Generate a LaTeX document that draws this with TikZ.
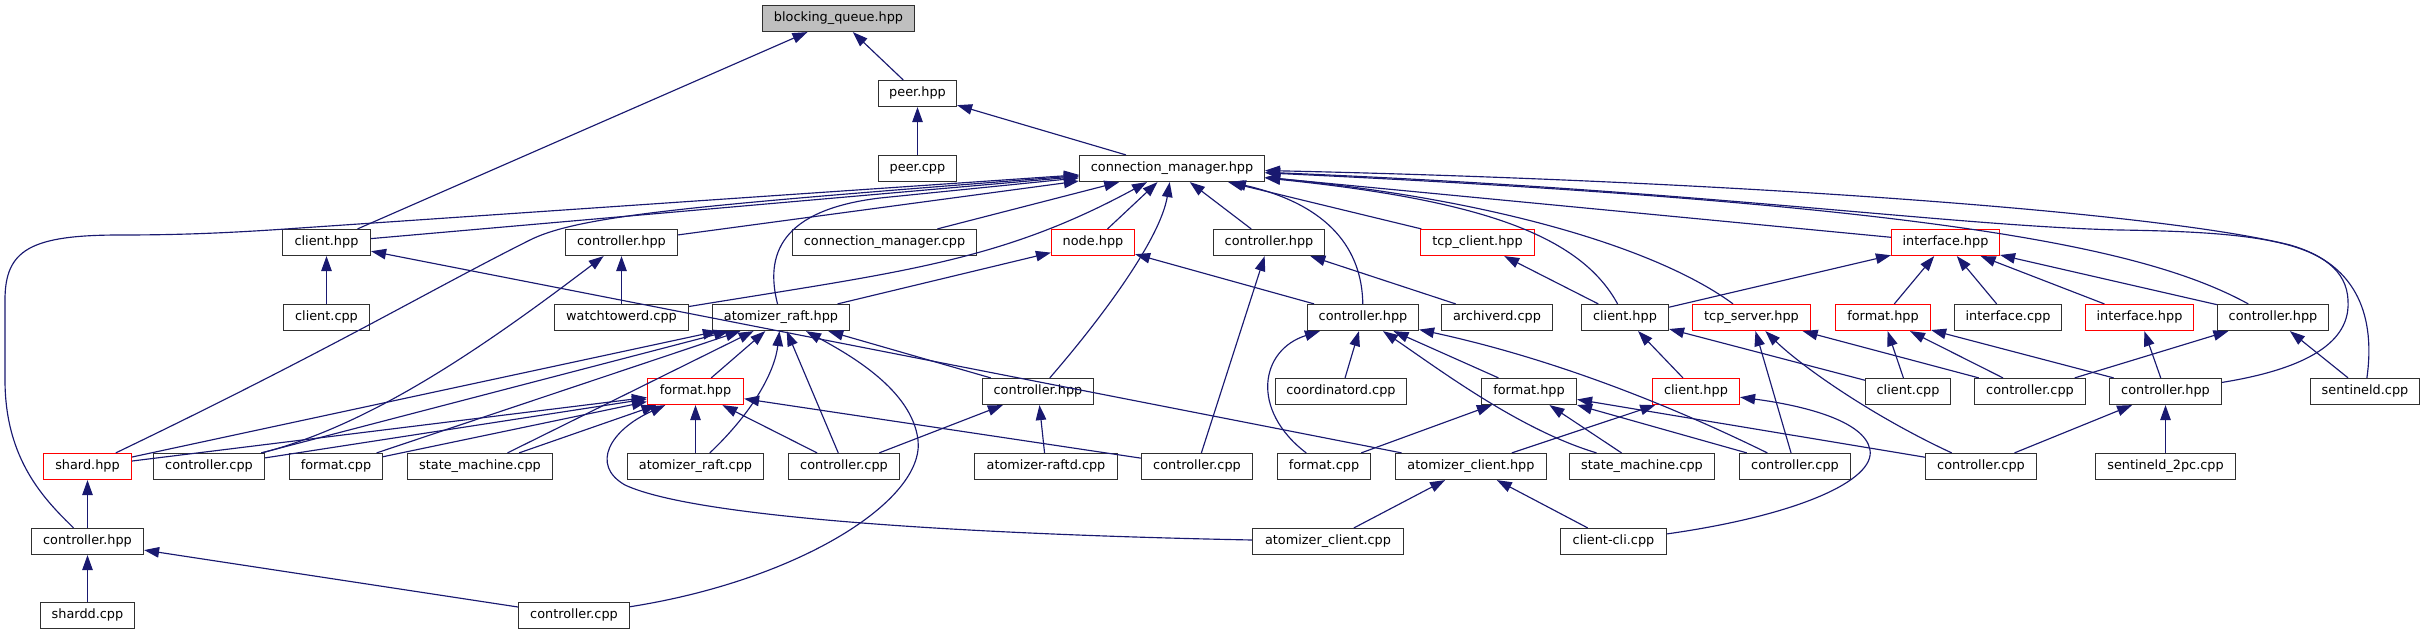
\documentclass[tikz,border=0pt]{standalone}
\usepackage{fontspec}
\setmainfont{DejaVu Sans}
\usetikzlibrary{arrows.meta}
\definecolor{edgeblue}{HTML}{191970}
\definecolor{boxgray}{HTML}{303030}
\definecolor{rootfill}{HTML}{BFBFBF}
\tikzset{box/.style={draw=boxgray,fill=white,line width=1.2pt,inner xsep=5pt,inner ysep=0pt,minimum height=26pt,text height=9.6pt,text depth=3pt,font=\fontsize{12.85pt}{15pt}\selectfont},
redbox/.style={box,draw=red},
rootbox/.style={box,fill=rootfill},
inc/.style={draw=edgeblue,line width=1.15pt,-{Triangle[length=15pt,width=10.5pt]}}}

\begin{document}
\begin{tikzpicture}[x=1pt,y=-1pt]
\useasboundingbox (0,0) rectangle (2425,635);
% nodes, row by row
\node[rootbox,minimum width=152pt] (bq) at (838.5,18.5) {blocking\_queue.hpp};
\node[box,minimum width=78pt] (peerh) at (917.5,93.5) {peer.hpp};
\node[box,minimum width=78pt] (peerc) at (917.5,168.5) {peer.cpp};
\node[box,minimum width=185pt] (cmh) at (1172,168.5) {connection\_manager.hpp};

\node[box,minimum width=88pt] (clienth) at (326.5,242.5) {client.hpp};
\node[box,minimum width=112pt] (ctrlha) at (621.5,242.5) {controller.hpp};
\node[box,minimum width=184pt] (cmc) at (884.5,242.5) {connection\_manager.cpp};
\node[redbox,minimum width=83pt] (nodeh) at (1093,242.5) {node.hpp};
\node[box,minimum width=111pt] (ctrlhb) at (1269,242.5) {controller.hpp};
\node[redbox,minimum width=114pt] (tcpch) at (1477.5,242.5) {tcp\_client.hpp};
\node[redbox,minimum width=108pt] (ifaceh) at (1945.5,242.5) {interface.hpp};

\node[box,minimum width=86pt] (clientc) at (326.5,317.5) {client.cpp};
\node[box,minimum width=134pt] (wtd) at (621.5,317.5) {watchtowerd.cpp};
\node[box,minimum width=137pt] (arh) at (781,317.5) {atomizer\_raft.hpp};
\node[box,minimum width=111pt] (ctrlhc) at (1363,317.5) {controller.hpp};
\node[box,minimum width=111pt] (archd) at (1497,317.5) {archiverd.cpp};
\node[box,minimum width=87pt] (clienthd) at (1625,317.5) {client.hpp};
\node[redbox,minimum width=118pt] (tcpsh) at (1751.5,317.5) {tcp\_server.hpp};
\node[redbox,minimum width=95pt] (fmthr) at (1883,317.5) {format.hpp};
\node[box,minimum width=107pt] (ifacec) at (2008,317.5) {interface.cpp};
\node[redbox,minimum width=108pt] (ifacehb) at (2139.5,317.5) {interface.hpp};
\node[box,minimum width=111pt] (ctrlhe) at (2273,317.5) {controller.hpp};

\node[redbox,minimum width=96pt] (fmtha) at (695.5,391.5) {format.hpp};
\node[box,minimum width=111pt] (ctrlhf) at (1038,391.5) {controller.hpp};
\node[box,minimum width=131pt] (coordc) at (1341,391.5) {coordinatord.cpp};
\node[box,minimum width=95pt] (fmthg) at (1529,391.5) {format.hpp};
\node[redbox,minimum width=87pt] (clienthh) at (1696,391.5) {client.hpp};
\node[box,minimum width=85pt] (clientcb) at (1908,391.5) {client.cpp};
\node[box,minimum width=111pt] (ctrlcb) at (2030,391.5) {controller.cpp};
\node[box,minimum width=112pt] (ctrlhi) at (2165.5,391.5) {controller.hpp};
\node[box,minimum width=109pt] (sentc) at (2365,391.5) {sentineld.cpp};

\node[redbox,minimum width=88pt] (shardh) at (87.5,466.5) {shard.hpp};
\node[box,minimum width=111pt] (ctrlc1) at (209,466.5) {controller.cpp};
\node[box,minimum width=93pt] (fmtc1) at (336,466.5) {format.cpp};
\node[box,minimum width=145pt] (smc1) at (480,466.5) {state\_machine.cpp};
\node[box,minimum width=136pt] (arc) at (695.5,466.5) {atomizer\_raft.cpp};
\node[box,minimum width=111pt] (ctrlc2) at (844,466.5) {controller.cpp};
\node[box,minimum width=143pt] (ardc) at (1046,466.5) {atomizer-raftd.cpp};
\node[box,minimum width=111pt] (ctrlc3) at (1197,466.5) {controller.cpp};
\node[box,minimum width=93pt] (fmtc2) at (1324,466.5) {format.cpp};
\node[box,minimum width=151pt] (ach) at (1471,466.5) {atomizer\_client.hpp};
\node[box,minimum width=145pt] (smc2) at (1642,466.5) {state\_machine.cpp};
\node[box,minimum width=111pt] (ctrlc4) at (1795,466.5) {controller.cpp};
\node[box,minimum width=111pt] (ctrlc5) at (1981,466.5) {controller.cpp};
\node[box,minimum width=140pt] (s2pc) at (2165.5,466.5) {sentineld\_2pc.cpp};

\node[box,minimum width=112pt] (ctrlh7) at (87.5,541.5) {controller.hpp};
\node[box,minimum width=151pt] (acc) at (1328,541.5) {atomizer\_client.cpp};
\node[box,minimum width=106pt] (clic) at (1613.5,541.5) {client-cli.cpp};

\node[box,minimum width=94pt] (shardd) at (87.5,615.5) {shardd.cpp};
\node[box,minimum width=111pt] (ctrlc8) at (574,615.5) {controller.cpp};

% top of the graph
\draw[inc] (peerh) -- (bq);
\draw[inc] (clienth) -- (bq);
\draw[inc] (peerc) -- (peerh);
\draw[inc] (cmh) -- (peerh);

% into connection_manager.hpp
\draw[inc] (clienth) -- (cmh);
\draw[inc] (ctrlh7) .. controls (45,500) and (5,460) .. (5,380) -- (5,300) .. controls (5,250) and (30,235) .. (120,235) .. controls (180,235) and (230,233) .. (300,228) -- (cmh);
\draw[inc] (shardh) .. controls (330,350) and (430,290) .. (530,240) .. controls (580,215) and (700,205) .. (cmh);
\draw[inc] (ctrlha) -- (cmh);
\draw[inc] (cmc) -- (cmh);
\draw[inc] (wtd) .. controls (900,272) and (1000,262) .. (cmh);
\draw[inc] (arh) .. controls (765,255) and (780,210) .. (880,198) -- (cmh);
\draw[inc] (nodeh) -- (cmh);
\draw[inc] (ctrlhb) -- (cmh);
\draw[inc] (ctrlhc) .. controls (1362,250) and (1330,205) .. (cmh);
\draw[inc] (ctrlhf) .. controls (1100,320) and (1160,240) .. (cmh);
\draw[inc] (tcpch) -- (cmh);
\draw[inc] (clienthd) .. controls (1580,235) and (1480,200) .. (cmh);
\draw[inc] (tcpsh) .. controls (1660,250) and (1500,200) .. (cmh);
\draw[inc] (ifaceh) -- (cmh);
\draw[inc] (ctrlhe) .. controls (2150,250) and (1950,205) .. (cmh);
\draw[inc] (ctrlhi) .. controls (2330,365) and (2350,330) .. (2348,300) .. controls (2345,240) and (2250,232) .. (2120,230) .. controls (1950,226) and (1700,190) .. (cmh);
\draw[inc] (sentc) .. controls (2375,320) and (2360,265) .. (2290,245) .. controls (2150,210) and (1700,180) .. (cmh);

% third row
\draw[inc] (clientc) -- (clienth);
\draw[inc] (ach) -- (clienth);
\draw[inc] (wtd) -- (ctrlha);
\draw[inc] (ctrlc1) .. controls (370,425) and (480,350) .. (ctrlha);
\draw[inc] (arh) -- (nodeh);
\draw[inc] (ctrlhc) -- (nodeh);
\draw[inc] (archd) -- (ctrlhb);
\draw[inc] (ctrlc3) -- (ctrlhb);
\draw[inc] (clienthd) -- (tcpch);
\draw[inc] (clienthd) -- (ifaceh);
\draw[inc] (fmthr) -- (ifaceh);
\draw[inc] (ifacec) -- (ifaceh);
\draw[inc] (ifacehb) -- (ifaceh);
\draw[inc] (ctrlhe) -- (ifaceh);

% fourth row
\draw[inc] (shardh) -- (arh);
\draw[inc] (ctrlc1) -- (arh);
\draw[inc] (fmtc1) -- (arh);
\draw[inc] (smc1) -- (arh);
\draw[inc] (fmtha) -- (arh);
\draw[inc] (arc) .. controls (755,410) and (775,370) .. (arh);
\draw[inc] (ctrlc2) -- (arh);
\draw[inc] (ctrlc8) .. controls (800,580) and (925,500) .. (918,440) .. controls (912,390) and (850,355) .. (arh);
\draw[inc] (ctrlhf) -- (arh);
\draw[inc] (coordc) -- (ctrlhc);
\draw[inc] (fmtc2) .. controls (1250,410) and (1260,350) .. (ctrlhc);
\draw[inc] (smc2) .. controls (1520,430) and (1440,370) .. (ctrlhc);
\draw[inc] (fmthg) -- (ctrlhc);
\draw[inc] (ctrlc4) .. controls (1680,410) and (1560,360) .. (ctrlhc);
\draw[inc] (clienthh) -- (clienthd);
\draw[inc] (clientcb) -- (clienthd);
\draw[inc] (ctrlc4) -- (tcpsh);
\draw[inc] (ctrlc5) .. controls (1870,415) and (1800,365) .. (tcpsh);
\draw[inc] (ctrlcb) -- (tcpsh);
\draw[inc] (clientcb) -- (fmthr);
\draw[inc] (ctrlcb) -- (fmthr);
\draw[inc] (ctrlhi) -- (fmthr);
\draw[inc] (ctrlhi) -- (ifacehb);
\draw[inc] (ctrlcb) -- (ctrlhe);
\draw[inc] (sentc) -- (ctrlhe);

% fifth row
\draw[inc] (shardh) -- (fmtha);
\draw[inc] (ctrlc1) -- (fmtha);
\draw[inc] (fmtc1) -- (fmtha);
\draw[inc] (smc1) -- (fmtha);
\draw[inc] (arc) -- (fmtha);
\draw[inc] (ctrlc2) -- (fmtha);
\draw[inc] (ctrlc3) -- (fmtha);
\draw[inc] (acc) .. controls (1000,535) and (700,520) .. (625,485) .. controls (590,465) and (610,430) .. (fmtha);
\draw[inc] (ctrlc2) -- (ctrlhf);
\draw[inc] (ardc) -- (ctrlhf);
\draw[inc] (fmtc2) -- (fmthg);
\draw[inc] (smc2) -- (fmthg);
\draw[inc] (ctrlc4) -- (fmthg);
\draw[inc] (ctrlc5) -- (fmthg);
\draw[inc] (ach) -- (clienthh);
\draw[inc] (clic) .. controls (1800,515) and (1875,480) .. (1870,450) .. controls (1865,420) and (1800,405) .. (clienthh);
\draw[inc] (ctrlc5) -- (ctrlhi);
\draw[inc] (s2pc) -- (ctrlhi);

% bottom rows
\draw[inc] (ctrlh7) -- (shardh);
\draw[inc] (acc) -- (ach);
\draw[inc] (clic) -- (ach);
\draw[inc] (shardd) -- (ctrlh7);
\draw[inc] (ctrlc8) -- (ctrlh7);
\end{tikzpicture}
\end{document}
